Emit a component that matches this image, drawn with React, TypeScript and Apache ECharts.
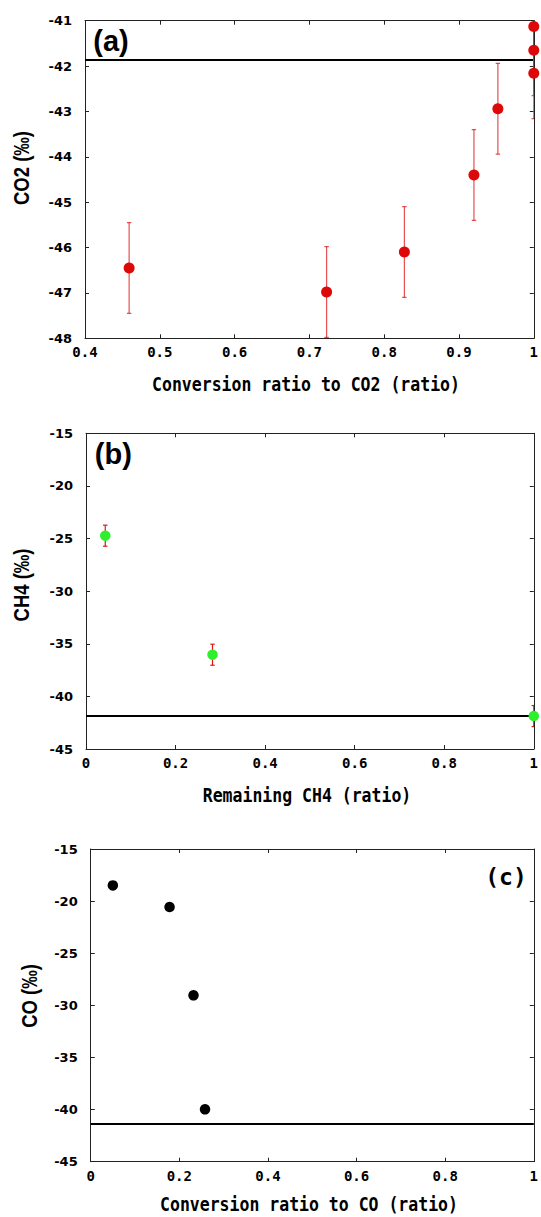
import React, { useEffect, useRef } from "react";
import * as echarts from "echarts";

// (a) CO2 produced vs. conversion ratio
const co2Ratio = [0.459, 0.723, 0.827, 0.92, 0.952, 1.0, 1.0, 1.0];
const co2Delta = [-46.45, -46.98, -46.1, -44.4, -42.94, -41.13, -41.65, -42.16];
const co2Err = [1, 1, 1, 1, 1, 1, 1, 1];
const co2Base = -41.86;

// (b) remaining CH4
const ch4Ratio = [0.043, 0.2825, 1.0];
const ch4Delta = [-24.73, -36.04, -41.87];
const ch4Err = [1, 1, 1];
const ch4Base = -41.87;

// (c) CO produced vs. conversion ratio
const coRatio = [0.05, 0.178, 0.232, 0.258];
const coDelta = [-18.49, -20.57, -29.04, -39.98];
const coBase = -41.36;

// axis ranges and tick steps
const xRanges = [
  [0.4, 1, 0.1],
  [0, 1, 0.2],
  [0, 1, 0.2],
];
const yRanges = [
  [-48, -41, 1],
  [-45, -15, 5],
  [-45, -15, 5],
];
const xTitles = [
  "Conversion ratio to CO2 (ratio)",
  "Remaining CH4 (ratio)",
  "Conversion ratio to CO (ratio)",
];
const yTitles = ["CO2 (‰)", "CH4 (‰)", "CO (‰)"];
const panelTags = ["(a)", "(b)", "(c)"];

const W = 541;
const H = 1217;

const grids = [
  { left: 85, right: 4, top: 20.7, height: 317.6 },
  { left: 86, right: 4.5, top: 433.3, height: 315.7 },
  { left: 90.7, right: 4.3, top: 849, height: 312.7 },
];

const frameColor = "#222";

function errorBarSeries(gridIdx: number, xs: number[], ys: number[], es: number[], color: string, opacity: number) {
  return {
    type: "custom",
    xAxisIndex: gridIdx * 2,
    yAxisIndex: gridIdx * 2,
    clip: true,
    z: 2,
    silent: true,
    data: xs.map((x, i) => [x, ys[i] - es[i], ys[i] + es[i]]),
    encode: { x: 0, y: [1, 2] },
    renderItem: (_params: any, api: any) => {
      const x = api.value(0);
      const lo = api.value(1);
      const hi = api.value(2);
      const top = api.coord([x, hi]);
      const bot = api.coord([x, lo]);
      const cap = 2.2;
      const style = { stroke: color, lineWidth: 1.2, opacity };
      return {
        type: "group",
        children: [
          { type: "line", shape: { x1: top[0], y1: top[1], x2: bot[0], y2: bot[1] }, style },
          { type: "line", shape: { x1: top[0] - cap, y1: top[1], x2: top[0] + cap, y2: top[1] }, style },
          { type: "line", shape: { x1: bot[0] - cap, y1: bot[1], x2: bot[0] + cap, y2: bot[1] }, style },
        ],
      };
    },
  };
}

function scatterSeries(gridIdx: number, xs: number[], ys: number[], color: string, size: number, base: number) {
  return {
    type: "scatter",
    xAxisIndex: gridIdx * 2,
    yAxisIndex: gridIdx * 2,
    clip: false,
    z: 3,
    symbol: "circle",
    symbolSize: size,
    itemStyle: { color, opacity: 1 },
    data: xs.map((x, i) => [x, ys[i]]),
    markLine: {
      silent: true,
      symbol: "none",
      z: 1,
      label: { show: false },
      lineStyle: { color: "#000", width: 2, type: "solid" },
      data: [{ yAxis: base }],
    },
  };
}

function buildOption() {
  const xAxis: any[] = [];
  const yAxis: any[] = [];
  grids.forEach((_g, i) => {
    const [xmin, xmax, xint] = xRanges[i];
    const [ymin, ymax, yint] = yRanges[i];
    const common = {
      axisLine: { show: true, onZero: false, lineStyle: { color: frameColor, width: 1 } },
      axisTick: { show: true, inside: true, length: 4, lineStyle: { color: frameColor } },
      splitLine: { show: false },
    };
    xAxis.push({
      type: "value",
      gridIndex: i,
      position: "bottom",
      min: xmin,
      max: xmax,
      interval: xint,
      ...common,
      axisLabel: {
        show: true,
        margin: 7,
        color: "#000",
        fontFamily: "DejaVu Sans Mono",
        fontWeight: "bold",
        fontSize: 14,
      },
    });
    xAxis.push({
      type: "value",
      gridIndex: i,
      position: "top",
      min: xmin,
      max: xmax,
      interval: xint,
      ...common,
      axisLabel: { show: false },
    });
    yAxis.push({
      type: "value",
      gridIndex: i,
      position: "left",
      min: ymin,
      max: ymax,
      interval: yint,
      ...common,
      axisLabel: {
        show: true,
        margin: 13,
        color: "#000",
        fontFamily: "DejaVu Sans",
        fontWeight: "bold",
        fontSize: 13,
      },
    });
    yAxis.push({
      type: "value",
      gridIndex: i,
      position: "right",
      min: ymin,
      max: ymax,
      interval: yint,
      ...common,
      axisLabel: { show: false },
    });
  });

  const text = (
    str: string,
    x: number,
    y: number,
    font: string,
    extra: Record<string, any> = {}
  ) => ({
    type: "text",
    x,
    y,
    z: 10,
    silent: true,
    ...extra,
    style: {
      text: str,
      x: 0,
      y: 0,
      font,
      fill: "#000",
      align: "center",
      verticalAlign: "middle",
      textAlign: "center",
      textVerticalAlign: "middle",
    },
  });

  const xTitlePos = [
    [306, 384],
    [307, 795],
    [309, 1204],
  ];
  const yTitlePos = [
    [21, 168],
    [21.5, 585],
    [29, 996],
  ];
  const titleFont = "bold 16.5px 'DejaVu Sans Mono'";
  const yTitleFont = "bold 18.5px 'Liberation Sans', Arial, sans-serif";

  const graphic: any[] = [];
  for (let i = 0; i < 3; i++) {
    graphic.push(text(xTitles[i], xTitlePos[i][0], xTitlePos[i][1], titleFont, { scaleY: 1.2 }));
    graphic.push(
      text(yTitles[i], yTitlePos[i][0], yTitlePos[i][1], yTitleFont, { rotation: Math.PI / 2, scaleY: 1.2 })
    );
  }
  graphic.push(text(panelTags[0], 111, 41, "bold 29px 'Liberation Sans', Arial, sans-serif"));
  graphic.push(text(panelTags[1], 113.3, 454, "bold 29px 'Liberation Sans', Arial, sans-serif"));
  graphic.push(text(panelTags[2], 506, 876.5, "bold 23px 'DejaVu Sans Mono'"));

  return {
    animation: false,
    backgroundColor: "#fff",
    grid: grids.map((g) => ({ ...g, containLabel: false, show: false })),
    xAxis,
    yAxis,
    series: [
      errorBarSeries(0, co2Ratio, co2Delta, co2Err, "#e02424", 0.8),
      scatterSeries(0, co2Ratio, co2Delta, "#dd0808", 11, co2Base),
      errorBarSeries(1, ch4Ratio, ch4Delta, ch4Err, "#e41414", 1),
      scatterSeries(1, ch4Ratio, ch4Delta, "#2cf02c", 10.5, ch4Base),
      scatterSeries(2, coRatio, coDelta, "#000", 10.5, coBase),
    ],
    graphic,
  };
}

export default function App() {
  const ref = useRef<HTMLDivElement>(null);
  useEffect(() => {
    if (!ref.current) return;
    const chart = echarts.init(ref.current, undefined, { renderer: "svg" });
    chart.setOption(buildOption() as any);
    return () => chart.dispose();
  }, []);
  return (
    <div
      ref={ref}
      style={{ position: "absolute", left: 0, top: 0, width: W, height: H, background: "#fff" }}
    />
  );
}
